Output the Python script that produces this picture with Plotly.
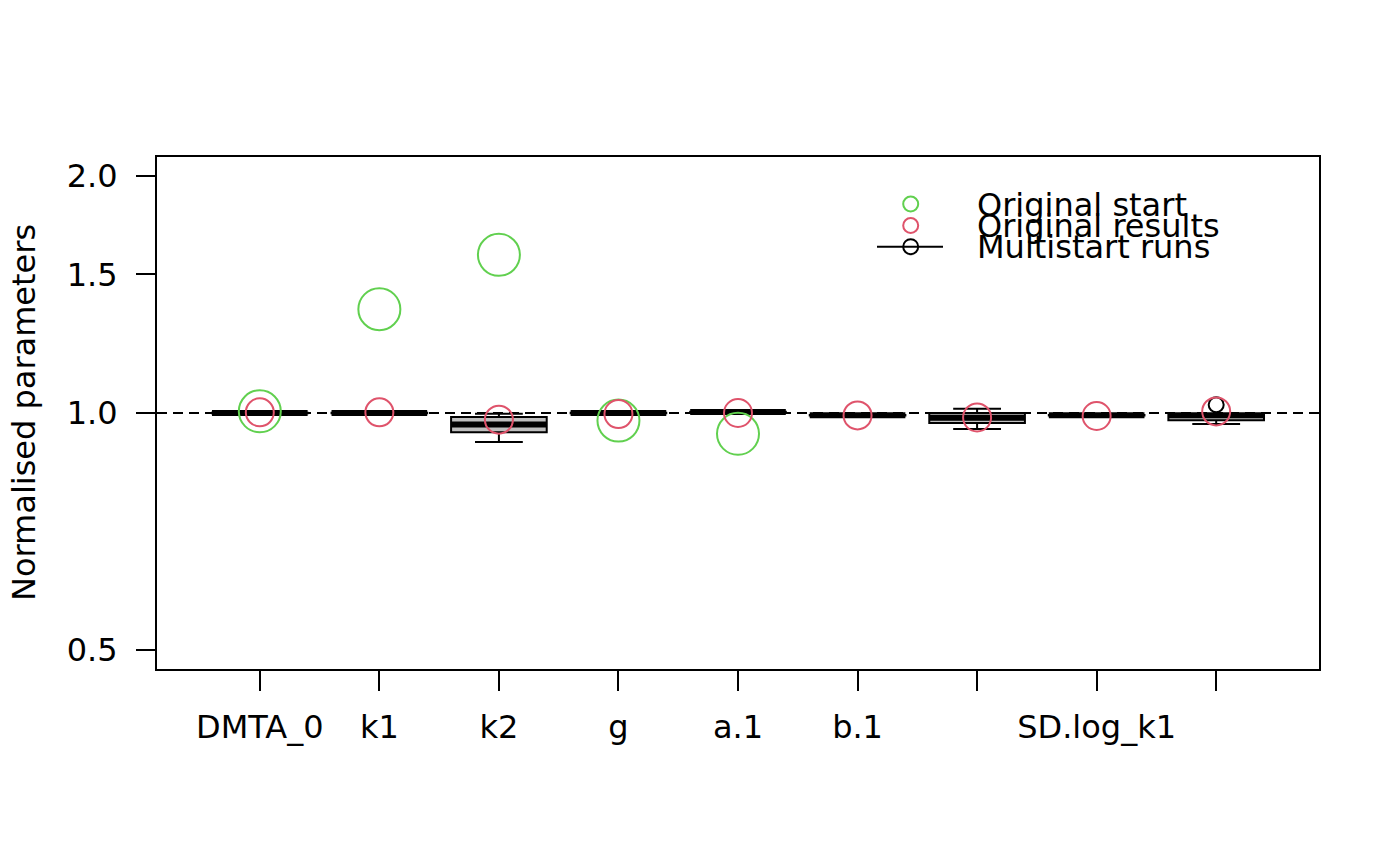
import plotly.graph_objects as go
import math

# ---- data ----
params = ["DMTA_0", "k1", "k2", "g", "a.1", "b.1", "SD.DMTA_0", "SD.log_k1", "SD.log_k2"]
tick_labels = ["DMTA_0", "k1", "k2", "g", "a.1", "b.1", "", "SD.log_k1", ""]  # R drops overlapping labels

# multistart box statistics (normalised)
box_q1 = [0.999, 0.999, 0.9451, 0.999, 1.002, 0.9930, 0.971, 0.9930, 0.9787]
box_median = [1.000, 1.000, 0.9666, 1.000, 1.003, 0.9936, 0.986, 0.9936, 0.9936]
box_q3 = [1.001, 1.001, 0.9884, 1.001, 1.004, 0.9942, 1.000, 0.9942, 0.9945]
box_low = [0.999, 0.999, 0.919, 0.999, 1.002, 0.9930, 0.9545, 0.9930, 0.9685]
box_high = [1.001, 1.001, 0.998, 1.001, 1.004, 0.9942, 1.0126, 0.9942, 0.9945]

outlier_x = [9]
outlier_y = [1.0244]

original_start = [1.005, 1.3545, 1.588, 0.978, 0.941, None, None, None, None]
original_results = [1.002, 1.002, 0.9807, 0.997, 1.000, 0.993, 0.987, 0.9913, 1.0047]

y_ticks = [0.5, 1.0, 1.5, 2.0]
y_ticktext = ["0.5", "1.0", "1.5", "2.0"]

GREEN = "#61D04F"
RED = "#DF536B"
FONT = "DejaVu Sans"
FS = 32
FS_LEG = 32

xs = list(range(1, len(params) + 1))

fig = go.Figure()

fig.add_trace(go.Box(
    x=xs, q1=box_q1, median=box_median, q3=box_q3,
    lowerfence=box_low, upperfence=box_high,
    width=0.8, whiskerwidth=0.5,
    line=dict(color="black", width=2), fillcolor="#BEBEBE",
    boxpoints=False, showlegend=False, hoverinfo="skip",
))

# thick median lines
mx, my = [], []
for x, m in zip(xs, box_median):
    mx += [x - 0.4, x + 0.4, None]
    my += [m, m, None]
fig.add_trace(go.Scatter(x=mx, y=my, mode="lines",
                         line=dict(color="black", width=6), showlegend=False,
                         hoverinfo="skip"))

fig.add_trace(go.Scatter(x=outlier_x, y=outlier_y, mode="markers",
                         marker=dict(symbol="circle-open", size=15, color="black",
                                     line=dict(width=2, color="black")),
                         showlegend=False))

fig.add_trace(go.Scatter(x=xs, y=original_start, mode="markers",
                         marker=dict(symbol="circle-open", size=42, color=GREEN,
                                     line=dict(width=2, color=GREEN)),
                         showlegend=False))
fig.add_trace(go.Scatter(x=xs, y=original_results, mode="markers",
                         marker=dict(symbol="circle-open", size=28, color=RED,
                                     line=dict(width=2, color=RED)),
                         showlegend=False))

# reference line at 1
fig.add_shape(type="line", xref="paper", x0=0, x1=1, yref="y", y0=1, y1=1,
              line=dict(color="black", width=2, dash="10px,6px"), layer="below")

W, H = 1400, 866
L, R, T, B = 157, 81, 157, 197
pw, ph = W - L - R, H - T - B


def px(x):
    return (x - L) / pw


def py(y):
    return (H - B - y) / ph


# manual legend (R style, bty="n")
legend_items = [("Original start", GREEN, 204.0), ("Original results", RED, 225.5),
                ("Multistart runs", "black", 246.7)]
for text, col, yy in legend_items:
    fig.add_shape(type="circle", xref="paper", yref="paper",
                  xsizemode="pixel", ysizemode="pixel",
                  xanchor=px(910.7), yanchor=py(yy),
                  x0=-7.5, x1=7.5, y0=-7.5, y1=7.5,
                  line=dict(color=col, width=2))
    fig.add_annotation(x=px(975), y=py(yy + 0.5), xref="paper", yref="paper",
                       text=text, showarrow=False, xanchor="left", yanchor="middle",
                       font=dict(family=FONT, size=FS_LEG, color="black"))
fig.add_shape(type="line", xref="paper", yref="paper",
              x0=px(877), x1=px(943), y0=py(246.7), y1=py(246.7),
              line=dict(color="black", width=2))

fig.add_annotation(x=px(24), y=0.5, xref="paper", yref="paper",
                   text="Normalised parameters", textangle=-90, showarrow=False,
                   xanchor="center", yanchor="middle",
                   font=dict(family=FONT, size=FS, color="black"))

ylo = math.log10(0.5) - 0.04 * (math.log10(2) - math.log10(0.5))
yhi = math.log10(2) + 0.04 * (math.log10(2) - math.log10(0.5))

fig.update_layout(
    width=W, height=H,
    margin=dict(l=L, r=R, t=T, b=B),
    paper_bgcolor="white", plot_bgcolor="white",
    font=dict(family=FONT, size=FS, color="black"),
    showlegend=False,
    xaxis=dict(range=[0.14, 9.86], tickvals=xs, ticktext=tick_labels,
               showgrid=False, zeroline=False, showline=True, mirror=True,
               linecolor="black", linewidth=2, ticks="outside", ticklen=20,
               tickwidth=2, tickcolor="black", ticklabelstandoff=9),
    yaxis=dict(type="log", range=[ylo, yhi], tickvals=y_ticks, ticktext=y_ticktext,
               showgrid=False, zeroline=False, showline=True, mirror=True,
               linecolor="black", linewidth=2, ticks="outside", ticklen=19,
               tickwidth=2, tickcolor="black", ticklabelstandoff=12),
)

fig.write_html("out.html")
